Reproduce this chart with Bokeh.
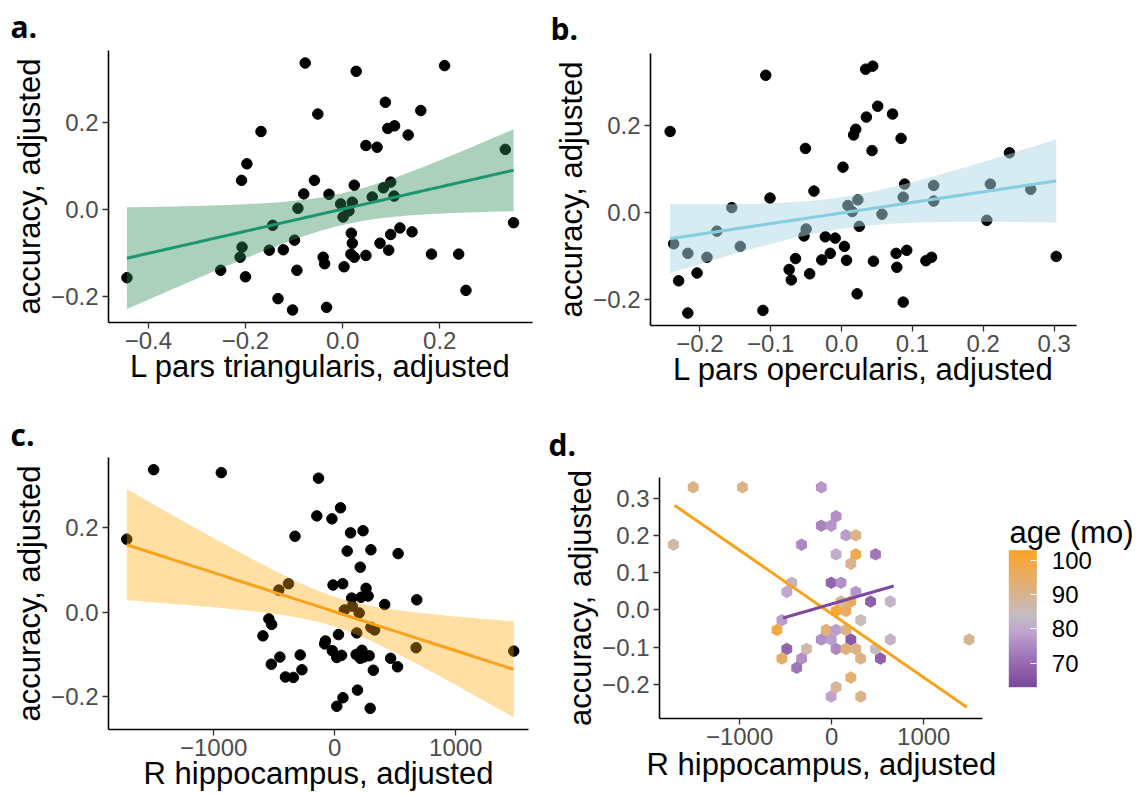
import numpy as np
from bokeh.plotting import figure
from bokeh.layouts import column, row
from bokeh.models import (FixedTicker, CustomJSTickFormatter, Range1d, Label, Title,
                          LinearColorMapper, ColorBar, ColumnDataSource)
from bokeh.embed import file_html
from bokeh.resources import INLINE

# ---------------- data ----------------
# panel a: L pars triangularis vs accuracy
a_x = [-0.077, 0.028, 0.210, 0.088, -0.051, 0.161, -0.168, 0.093, 0.107, 0.135,
       0.048, 0.071, 0.335, -0.197, -0.208, -0.058, 0.024, 0.099, 0.084, -0.080,
       -0.028, 0.061, 0.106, -0.092, -0.004, 0.020, 0.013, 0.001, 0.352, -0.144,
       0.118, 0.143, 0.018, 0.099, -0.099, 0.020, 0.077, -0.207, -0.151, -0.122,
       0.095, -0.211, -0.040, 0.017, 0.024, 0.048, 0.183, 0.239, -0.037, 0.003,
       -0.251, -0.094, -0.444, -0.200, 0.254, -0.133, -0.033, -0.103]
a_y = [0.336, 0.317, 0.330, 0.246, 0.219, 0.227, 0.179, 0.186, 0.192, 0.171,
       0.147, 0.143, 0.138, 0.105, 0.067, 0.067, 0.056, 0.063, 0.050, 0.036,
       0.035, 0.029, 0.031, 0.003, 0.013, 0.017, -0.003, -0.017, -0.030, -0.036,
       -0.042, -0.051, -0.054, -0.057, -0.070, -0.077, -0.077, -0.086, -0.093, -0.092,
       -0.093, -0.109, -0.109, -0.102, -0.109, -0.105, -0.102, -0.102, -0.124, -0.131,
       -0.139, -0.139, -0.156, -0.154, -0.185, -0.204, -0.224, -0.230]

# panel b: L pars opercularis vs accuracy
b_x = [0.044, 0.034, -0.107, 0.051, 0.072, 0.035, -0.242, 0.020, 0.017, 0.084,
       -0.051, 0.043, 0.237, 0.002, 0.089, 0.130, 0.210, -0.039, 0.267, -0.101,
       0.087, 0.023, 0.130, -0.155, 0.009, 0.015, 0.057, 0.205, -0.176, -0.050,
       0.025, -0.053, -0.023, -0.009, -0.237, -0.143, 0.004, -0.217, 0.077, 0.092,
       -0.016, -0.190, -0.065, -0.028, 0.007, 0.045, 0.119, 0.127, 0.303, -0.074,
       0.078, -0.204, -0.045, -0.230, -0.071, 0.022, 0.087, -0.111, -0.217]
b_y = [0.337, 0.330, 0.316, 0.245, 0.227, 0.220, 0.187, 0.192, 0.179, 0.171,
       0.148, 0.143, 0.138, 0.105, 0.066, 0.063, 0.066, 0.050, 0.054, 0.034,
       0.036, 0.030, 0.027, 0.012, 0.017, 0.003, -0.003, -0.017, -0.042, -0.037,
       -0.031, -0.053, -0.055, -0.058, -0.071, -0.077, -0.077, -0.093, -0.093, -0.086,
       -0.093, -0.102, -0.105, -0.108, -0.109, -0.111, -0.110, -0.102, -0.100, -0.130,
       -0.125, -0.138, -0.140, -0.156, -0.154, -0.186, -0.205, -0.224, -0.230]

# panel c: R hippocampus vs accuracy
c_x = [-1496, -937, -134, 48, -148, -23, 234, 131, -1718, -328,
       299, 103, 524, 211, -382, -14, 66, -462, 259, 276,
       217, 140, 678, 413, 145, 80, 202, -544, -521, 299,
       330, 182, -593, 31, -77, -83, 672, -20, 1479, 225,
       177, 57, 17, -285, 239, 285, 211, -453, 462, -524,
       519, -271, 319, -407, -342, 188, 68, 17, 293]
c_y = [0.336, 0.329, 0.316, 0.246, 0.227, 0.220, 0.192, 0.187, 0.172, 0.179,
       0.147, 0.144, 0.138, 0.106, 0.067, 0.064, 0.067, 0.052, 0.056, 0.038,
       0.035, 0.033, 0.029, 0.018, 0.014, 0.005, -0.002, -0.016, -0.029, -0.036,
       -0.042, -0.049, -0.056, -0.053, -0.068, -0.075, -0.084, -0.091, -0.092, -0.090,
       -0.100, -0.102, -0.107, -0.101, -0.106, -0.103, -0.109, -0.106, -0.109, -0.123,
       -0.129, -0.136, -0.137, -0.153, -0.154, -0.184, -0.202, -0.222, -0.227]

# panel d: hexagon bins (centre x, centre y, mean age in months)
d_hex_x = [-1504, -969, -113, 48, -113, -6, 155, 262, -1718, -327,
           48, 262, 476, 208, -434, -6, 101, -487, 262, 101,
           208, 422, 636, 48, 155, -541, 315, -594, -59, 48,
           155, -113, -6, 208, 636, 1492, -487, -273, 48, 155,
           262, 476, -541, -327, 315, 529, -380, 208, 48, -6, 315]
d_hex_y = [0.329, 0.329, 0.329, 0.251, 0.226, 0.226, 0.200, 0.200, 0.175, 0.175,
           0.149, 0.149, 0.149, 0.124, 0.073, 0.073, 0.073, 0.048, 0.048, 0.022,
           0.022, 0.022, 0.022, -0.003, -0.003, -0.028, -0.028, -0.054, -0.054, -0.054,
           -0.054, -0.080, -0.080, -0.080, -0.080, -0.080, -0.105, -0.105, -0.105, -0.105,
           -0.105, -0.105, -0.131, -0.131, -0.131, -0.131, -0.156, -0.182, -0.208, -0.233, -0.233]
d_hex_age = [91, 91, 77, 76, 74, 77, 78, 91, 87, 75,
             81, 98, 72, 90, 82, 69, 76, 80, 77, 89,
             95, 68, 82, 101, 95, 78, 85, 99, 92, 78,
             91, 76, 78, 67, 82, 89, 69, 87, 75, 93,
             91, 85, 95, 76, 91, 68, 72, 94, 89, 79, 91]
# fitted lines in panel d (older / younger group), end points
d_old_x = [-1708, 1468]
d_old_y = [0.281, -0.262]
d_young_x = [-528, 673]
d_young_y = [-0.022, 0.064]
age_low, age_high = 63.0, 102.9
age_ticks = [70, 80, 90, 100]

# tick positions
a_xticks = [-0.4, -0.2, 0.0, 0.2]
b_xticks = [-0.2, -0.1, 0.0, 0.1, 0.2, 0.3]
acc_ticks = [-0.2, 0.0, 0.2]
hip_ticks = [-1000, 0, 1000]
d_yticks = [-0.2, -0.1, 0.0, 0.1, 0.2, 0.3]

# ---------------- helpers ----------------
FONT = "Liberation Sans"
T_CRIT = 2.003  # t quantile (0.975, ~57 df) for a 95% band


def fit_band(x, y, n_grid=100):
    x = np.asarray(x, float)
    y = np.asarray(y, float)
    n = len(x)
    xm, ym = x.mean(), y.mean()
    sxx = ((x - xm) ** 2).sum()
    b1 = ((x - xm) * (y - ym)).sum() / sxx
    b0 = ym - b1 * xm
    s = np.sqrt(((y - (b0 + b1 * x)) ** 2).sum() / (n - 2))
    g = np.linspace(x.min(), x.max(), n_grid)
    fit = b0 + b1 * g
    se = s * np.sqrt(1.0 / n + (g - xm) ** 2 / sxx)
    return g, fit, fit - T_CRIT * se, fit + T_CRIT * se


def fmt(decimals):
    return CustomJSTickFormatter(code="""
        const s = Math.abs(tick).toFixed(%d);
        return (tick < -1e-12 ? '\\u2212' : '') + s;
    """ % decimals)


def make_fig(w, h, xr, yr, bl, br, bt, bb):
    p = figure(width=w, height=h, x_range=Range1d(*xr), y_range=Range1d(*yr),
               output_backend="svg", toolbar_location=None,
               min_border_left=bl, min_border_right=br,
               min_border_top=bt, min_border_bottom=bb)
    p.outline_line_color = None
    p.xgrid.visible = False
    p.ygrid.visible = False
    p.background_fill_color = "white"
    p.border_fill_color = "white"
    return p


def style_axes(p, xticks, yticks, xdec, ydec, xlabel, ylabel):
    for ax, ticks, dec, lab in ((p.xaxis[0], xticks, xdec, xlabel),
                                (p.yaxis[0], yticks, ydec, ylabel)):
        ax.ticker = FixedTicker(ticks=ticks)
        ax.formatter = fmt(dec)
        ax.axis_label = lab
        ax.axis_label_text_font = FONT
        ax.axis_label_text_font_style = "normal"
        ax.axis_label_text_font_size = "31px"
        ax.axis_label_text_color = "black"
        ax.major_label_text_font = FONT
        ax.major_label_text_font_size = "24px"
        ax.major_label_text_color = "#4D4D4D"
        ax.axis_line_color = "black"
        ax.axis_line_width = 1.6
        ax.major_tick_line_color = "#333333"
        ax.major_tick_line_width = 1.3
        ax.major_tick_out = 6
        ax.major_tick_in = 0
        ax.minor_tick_line_color = None
    p.xaxis[0].major_label_standoff = 3
    p.xaxis[0].axis_label_standoff = -3
    p.yaxis[0].major_label_standoff = 4
    p.yaxis[0].axis_label_standoff = 1


def panel_tag(p, text, offset, standoff):
    p.add_layout(Title(text=text, align="left", offset=offset, standoff=standoff,
                       text_font="Open Sans", text_font_style="bold",
                       text_font_size="30px", text_color="black"), "above")


def scatter_panel(p, x, y, line_color, fill_color, fill_alpha):
    p.scatter(x, y, size=10.5, color="black")
    g, fit, lo, hi = fit_band(x, y)
    p.varea(x=g, y1=lo, y2=hi, fill_color=fill_color, fill_alpha=fill_alpha)
    p.line(g, fit, line_color=line_color, line_width=3)


# ---------------- panel a ----------------
pa = make_fig(540, 392, (-0.482, 0.391), (-0.2587, 0.3646), 108, 8, 49, 70)
scatter_panel(pa, a_x, a_y, "#1C9671", "#2E8B57", 0.4)
style_axes(pa, a_xticks, acc_ticks, 1, 1, "L pars triangularis, adjusted", "accuracy, adjusted")
panel_tag(pa, "a.", -98, 7)

# ---------------- panel b ----------------
pb = make_fig(598, 392, (-0.2697, 0.3316), (-0.2587, 0.366), 110, 62, 52, 67)
scatter_panel(pb, b_x, b_y, "#86CEDF", "#ADD8E6", 0.5)
style_axes(pb, b_xticks, acc_ticks, 1, 1, "L pars opercularis, adjusted", "accuracy, adjusted")
panel_tag(pb, "b.", -100, 10)

# ---------------- panel c ----------------
pc = make_fig(540, 402, (-1869, 1601), (-0.2769, 0.3647), 108, 12, 65, 65)
scatter_panel(pc, c_x, c_y, "#F9A21C", "#FFA500", 0.36)
style_axes(pc, hip_ticks, acc_ticks, 0, 1, "R hippocampus, adjusted", "accuracy, adjusted")
panel_tag(pc, "c.", -98, 6)

# ---------------- panel d ----------------
anchors_v = [63, 68, 74, 79, 84, 90, 96, 103]
anchors_c = ["#7A4A9C", "#8F5FAA", "#A982C0", "#BFA3CF", "#C4BEC4",
             "#D8B48F", "#EAAC62", "#FAA523"]


def hex2rgb(h):
    return [int(h[i:i + 2], 16) for i in (1, 3, 5)]


pal = []
for v in np.linspace(anchors_v[0], anchors_v[-1], 256):
    rgb = [np.interp(v, anchors_v, [hex2rgb(c)[k] for c in anchors_c]) for k in range(3)]
    pal.append("#%02x%02x%02x" % tuple(int(round(c)) for c in rgb))

mapper = LinearColorMapper(palette=pal, low=age_low, high=age_high)

# the frame of d reaches to the right edge (room for the colour bar);
# the x axis line is bounded to the data range
d_xlim = (-1870, 1642)
pd_ = make_fig(598, 402, (-1870, 3310), (-0.292, 0.3554), 119, 2, 85, 76)
src_d = ColumnDataSource(dict(x=d_hex_x, y=d_hex_y, age=d_hex_age))
pd_.scatter("x", "y", source=src_d, marker="hex", size=12.5, angle=np.pi / 6,
            fill_color={"field": "age", "transform": mapper}, line_color=None)
pd_.line(d_old_x, d_old_y, line_color="#F9A21C", line_width=3)
pd_.line(d_young_x, d_young_y, line_color="#7D4AA0", line_width=3)
style_axes(pd_, hip_ticks, d_yticks, 0, 1, "", "accuracy, adjusted")
pd_.xaxis[0].bounds = d_xlim
pd_.add_layout(Title(text="R hippocampus, adjusted", align="left", offset=-13,
                     standoff=-2, vertical_align="top", text_font=FONT,
                     text_font_style="normal", text_font_size="31px",
                     text_color="black"), "below")
panel_tag(pd_, "d.", -111, 26)

cb = ColorBar(color_mapper=mapper, ticker=FixedTicker(ticks=age_ticks),
              width=28, height=137, location=(339.3, 21.3), title=None,
              major_label_text_font=FONT, major_label_text_font_size="24px",
              major_label_text_color="black", label_standoff=15,
              major_tick_line_color="white", major_tick_line_width=1.2,
              major_tick_in=6, major_tick_out=0, minor_tick_line_color=None,
              bar_line_color=None, border_line_color=None,
              background_fill_color=None, padding=10, margin=0)
pd_.add_layout(cb, "center")
pd_.add_layout(Label(x=1931, y=0.2088, text="age (mo)", text_font=FONT,
                     text_font_size="31px", text_color="black",
                     text_baseline="alphabetic", text_align="left"))

layout = column(row(column(pa), column(pb)), row(column(pc), column(pd_)))
open("out.html", "w").write(file_html(layout, INLINE))
